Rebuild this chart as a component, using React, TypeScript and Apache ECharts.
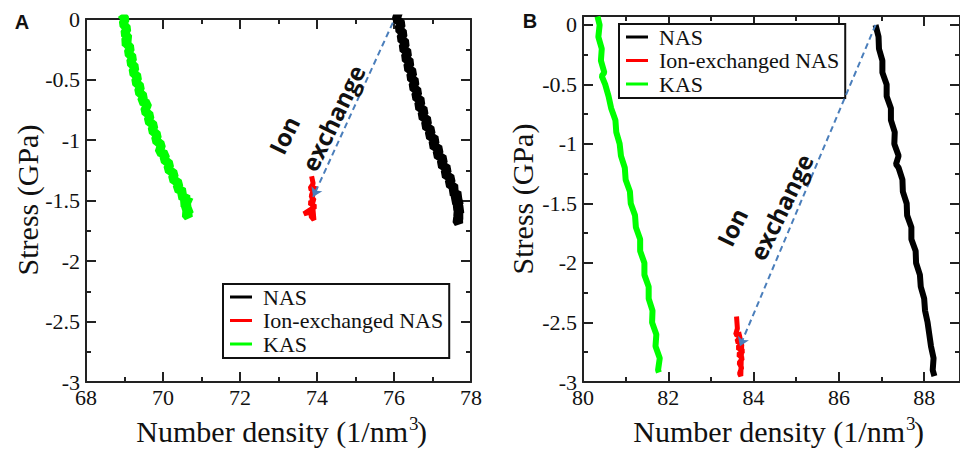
import React, { useEffect, useRef } from "react";
import * as echarts from "echarts";

// ---------- data ----------
const SERIES_NAMES = ["NAS", "Ion-exchanged NAS", "KAS"];
const COLORS = ["#000000", "#ff0000", "#00ff00"];

const A_X = { min: 68, max: 78, interval: 2 };
const B_X = { min: 80, max: 88.84, interval: 2 };
const A_Y = { min: -3, max: 0, interval: 0.5 };
const B_Y = { min: -3, max: 0.075, interval: 0.5 };

const A_KAS: [number, number][] = [
  [68.92, 0.04], [69.02, 0.0], [68.96, -0.04], [69.07, -0.08], [69.0, -0.12], [69.11, -0.16],
  [68.99, -0.19], [69.04, -0.2], [69.16, -0.24], [69.09, -0.28], [69.22, -0.32], [69.15, -0.36],
  [69.28, -0.4], [69.21, -0.44], [69.35, -0.48], [69.28, -0.52], [69.42, -0.56], [69.36, -0.6],
  [69.5, -0.64], [69.44, -0.68], [69.6, -0.7], [69.58, -0.72], [69.52, -0.76], [69.67, -0.8],
  [69.61, -0.84], [69.77, -0.88], [69.71, -0.92], [69.86, -0.96], [69.8, -1.0], [69.96, -1.04],
  [69.9, -1.1], [70.07, -1.12], [70.02, -1.16], [70.18, -1.2], [70.12, -1.24], [70.3, -1.28],
  [70.24, -1.32], [70.42, -1.36], [70.36, -1.4], [70.54, -1.43], [70.45, -1.46], [70.66, -1.49],
  [70.5, -1.52], [70.66, -1.54], [70.52, -1.57], [70.72, -1.57], [70.58, -1.61], [70.66, -1.64],
  [70.6, -1.5], [70.74, -1.52],
];

const A_NAS: [number, number][] = [
  [76.12, 0.06], [76.06, 0.0], [76.2, -0.04], [76.12, -0.08], [76.25, -0.12], [76.17, -0.16],
  [76.31, -0.2], [76.22, -0.24], [76.37, -0.28], [76.28, -0.32], [76.43, -0.36], [76.34, -0.4],
  [76.5, -0.44], [76.42, -0.48], [76.56, -0.52], [76.48, -0.56], [76.63, -0.6], [76.55, -0.64],
  [76.72, -0.68], [76.62, -0.72], [76.8, -0.76], [76.71, -0.8], [76.89, -0.84], [76.8, -0.88],
  [76.98, -0.92], [76.9, -0.96], [77.09, -1.0], [76.99, -1.04], [77.19, -1.08], [77.1, -1.12],
  [77.3, -1.16], [77.21, -1.2], [77.4, -1.24], [77.31, -1.28], [77.5, -1.32], [77.42, -1.36],
  [77.6, -1.4], [77.5, -1.43], [77.7, -1.46], [77.55, -1.5], [77.74, -1.52], [77.58, -1.55],
  [77.76, -1.57], [77.62, -1.6], [77.72, -1.63], [77.62, -1.66], [77.68, -1.69], [77.66, -1.5],
  [77.78, -1.49],
];

const A_ION: [number, number][] = [
  [73.86, -1.3], [73.9, -1.36], [73.82, -1.4], [73.95, -1.43], [73.84, -1.46], [73.93, -1.5],
  [73.8, -1.52], [73.96, -1.55], [73.85, -1.57], [73.66, -1.61], [73.9, -1.59], [73.84, -1.63],
  [73.92, -1.66], [73.87, -1.48], [73.96, -1.38], [73.86, -1.45],
];

const B_KAS: [number, number][] = [
  [80.34, 0.07], [80.39, 0.0], [80.36, -0.1], [80.44, -0.2], [80.42, -0.3], [80.5, -0.4],
  [80.44, -0.43], [80.52, -0.5], [80.6, -0.6], [80.66, -0.7], [80.76, -0.8], [80.78, -0.9],
  [80.86, -1.0], [80.89, -1.1], [80.98, -1.2], [81.0, -1.3], [81.1, -1.4], [81.12, -1.5],
  [81.22, -1.6], [81.24, -1.7], [81.34, -1.8], [81.34, -1.9], [81.44, -2.0], [81.44, -2.1],
  [81.54, -2.2], [81.54, -2.3], [81.63, -2.4], [81.62, -2.5], [81.72, -2.6], [81.7, -2.7],
  [81.8, -2.8], [81.76, -2.9], [81.78, -2.92],
];

const B_NAS: [number, number][] = [
  [86.86, 0.0], [86.93, -0.1], [86.94, -0.2], [87.02, -0.3], [87.02, -0.4], [87.12, -0.5],
  [87.12, -0.6], [87.22, -0.7], [87.22, -0.8], [87.31, -0.9], [87.3, -1.0], [87.4, -1.1],
  [87.34, -1.17], [87.4, -1.2], [87.49, -1.3], [87.5, -1.4], [87.59, -1.5], [87.6, -1.6],
  [87.7, -1.7], [87.7, -1.8], [87.8, -1.9], [87.81, -2.0], [87.9, -2.1], [87.92, -2.2],
  [88.0, -2.3], [88.02, -2.4], [88.08, -2.5], [88.12, -2.6], [88.16, -2.7], [88.22, -2.8],
  [88.2, -2.9], [88.24, -2.95],
];

const B_ION: [number, number][] = [
  [83.6, -2.45], [83.62, -2.55], [83.58, -2.6], [83.7, -2.62], [83.6, -2.66], [83.75, -2.68],
  [83.62, -2.71], [83.76, -2.74], [83.64, -2.77], [83.74, -2.8], [83.66, -2.84], [83.72, -2.88],
  [83.67, -2.93], [83.7, -2.95], [83.72, -2.7], [83.65, -2.58],
];

const A_ARROW: [number, number][] = [[75.97, -0.03], [73.9, -1.47]];
const B_ARROW: [number, number][] = [[86.86, 0.0], [83.68, -2.7]];

// ---------- styling helpers ----------
const SERIF = "Liberation Serif";
const AXIS_COLOR = "#222";

function labelStyle(margin: number, show: boolean, showMax: boolean) {
  return {
    show,
    margin,
    showMaxLabel: showMax,
    color: "#111",
    fontSize: 22,
    fontFamily: SERIF,
    fontStyle: "normal",
    fontWeight: "normal",
  };
}

function axisCommon(r: any) {
  return {
    type: "value",
    min: r.min,
    max: r.max,
    interval: r.interval,
    axisLine: { show: true, onZero: false, lineStyle: { color: AXIS_COLOR, width: 2 } },
    axisTick: { show: true, inside: true, length: 10, lineStyle: { color: AXIS_COLOR, width: 2 } },
    minorTick: { show: true, splitNumber: 2, length: 5, lineStyle: { color: AXIS_COLOR, width: 2 } },
    splitLine: { show: false },
  };
}

function band(name: string, color: string, data: [number, number][], ax: number, width: number) {
  return {
    type: "line",
    name,
    xAxisIndex: ax,
    yAxisIndex: ax,
    data,
    showSymbol: false,
    symbol: "none",
    color,
    lineStyle: { color, width },
    z: 3,
  };
}

function arrowMark(pts: [number, number][]) {
  return {
    silent: true,
    symbol: ["none", "arrow"],
    symbolSize: 9,
    label: { show: false },
    lineStyle: { color: "#4a7ebb", width: 2, type: [6, 4] },
    data: [[{ coord: pts[0] }, { coord: pts[1] }]],
  };
}

function legend(left: number, top: number) {
  return {
    left,
    top,
    orient: "vertical",
    data: SERIES_NAMES,
    icon: "rect",
    itemWidth: 22,
    itemHeight: 3,
    itemGap: 1.5,
    padding: [2, 6, 3, 7],
    borderColor: "#111",
    borderWidth: 2,
    backgroundColor: "#fff",
    selectedMode: false,
    textStyle: {
      fontSize: 22,
      lineHeight: 22,
      color: "#111",
      padding: [0, 0, 0, 6],
      fontFamily: SERIF,
      fontWeight: "normal",
      fontStyle: "normal",
    },
  };
}

function txt(text: string, x: number, y: number, size: number, opts: any = {}) {
  return {
    type: "text",
    x,
    y,
    rotation: opts.rotation || 0,
    z: 10,
    style: {
      text,
      fill: "#111",
      fontSize: size,
      fontFamily: opts.family || SERIF,
      fontWeight: opts.weight || "normal",
      align: opts.align || "center",
      verticalAlign: "middle",
    },
  };
}

const ROT = (64 * Math.PI) / 180;
const SANS_BOLD = "Open Sans";

export default function App() {
  const ref = useRef<HTMLDivElement>(null);
  useEffect(() => {
    document.body.style.margin = "0";
    if (!ref.current) return;
    const chart = echarts.init(ref.current, undefined, { renderer: "svg" });
    const option: any = {
      animation: false,
      backgroundColor: "#ffffff",
      textStyle: { fontFamily: SERIF, fontWeight: "normal", fontStyle: "normal" },
      grid: [
        { left: 86, top: 19, width: 385, height: 363 },
        { left: 583, top: 16, width: 380, height: 366 },
      ],
      xAxis: [
        { ...axisCommon(A_X), gridIndex: 0, position: "bottom", axisLabel: labelStyle(4, true, true) },
        { ...axisCommon(A_X), gridIndex: 0, position: "top", axisLabel: { show: false } },
        { ...axisCommon(B_X), gridIndex: 1, position: "bottom", axisLabel: labelStyle(4, true, false) },
        { ...axisCommon(B_X), gridIndex: 1, position: "top", axisLabel: { show: false } },
      ],
      yAxis: [
        { ...axisCommon(A_Y), gridIndex: 0, position: "left", axisLabel: labelStyle(6, true, true) },
        { ...axisCommon(A_Y), gridIndex: 0, position: "right", axisLabel: { show: false } },
        { ...axisCommon(B_Y), gridIndex: 1, position: "left", axisLabel: labelStyle(6, true, false) },
        { ...axisCommon(B_Y), gridIndex: 1, position: "right", axisLabel: { show: false } },
      ],
      legend: [legend(619, 24), legend(223, 284)],
      series: [
        band("KAS", COLORS[2], A_KAS, 0, 9),
        band("NAS", COLORS[0], A_NAS, 0, 9),
        { ...band("Ion-exchanged NAS", COLORS[1], A_ION, 0, 5), markLine: arrowMark(A_ARROW) },
        band("KAS", COLORS[2], B_KAS, 2, 6),
        band("NAS", COLORS[0], B_NAS, 2, 6),
        { ...band("Ion-exchanged NAS", COLORS[1], B_ION, 2, 5), markLine: arrowMark(B_ARROW) },
      ],
      graphic: [
        txt("A", 22, 22, 20, { family: "Liberation Sans", weight: "bold" }),
        txt("B", 530, 21, 20, { family: "Liberation Sans", weight: "bold" }),
        txt("Stress (GPa)", 27, 200, 30, { rotation: Math.PI / 2 }),
        txt("Stress (GPa)", 522, 199, 30, { rotation: Math.PI / 2 }),
        txt("Number density (1/nm", 408, 431, 30, { align: "right" }),
        txt("3", 409, 423, 19, { align: "left" }),
        txt(")", 417, 431, 30, { align: "left" }),
        txt("Number density (1/nm", 905, 431, 30, { align: "right" }),
        txt("3", 906, 423, 19, { align: "left" }),
        txt(")", 914, 431, 30, { align: "left" }),
        txt("Ion", 284, 135, 24, { family: SANS_BOLD, weight: "bold", rotation: ROT }),
        txt("exchange", 333, 118, 24, { family: SANS_BOLD, weight: "bold", rotation: ROT }),
        txt("Ion", 732, 227, 24, { family: SANS_BOLD, weight: "bold", rotation: ROT }),
        txt("exchange", 781, 207, 24, { family: SANS_BOLD, weight: "bold", rotation: ROT }),
      ],
    };
    chart.setOption(option);
    return () => chart.dispose();
  }, []);
  return (
    <div
      ref={ref}
      style={{ position: "absolute", left: 0, top: 0, width: 960, height: 450, background: "#fff" }}
    />
  );
}
